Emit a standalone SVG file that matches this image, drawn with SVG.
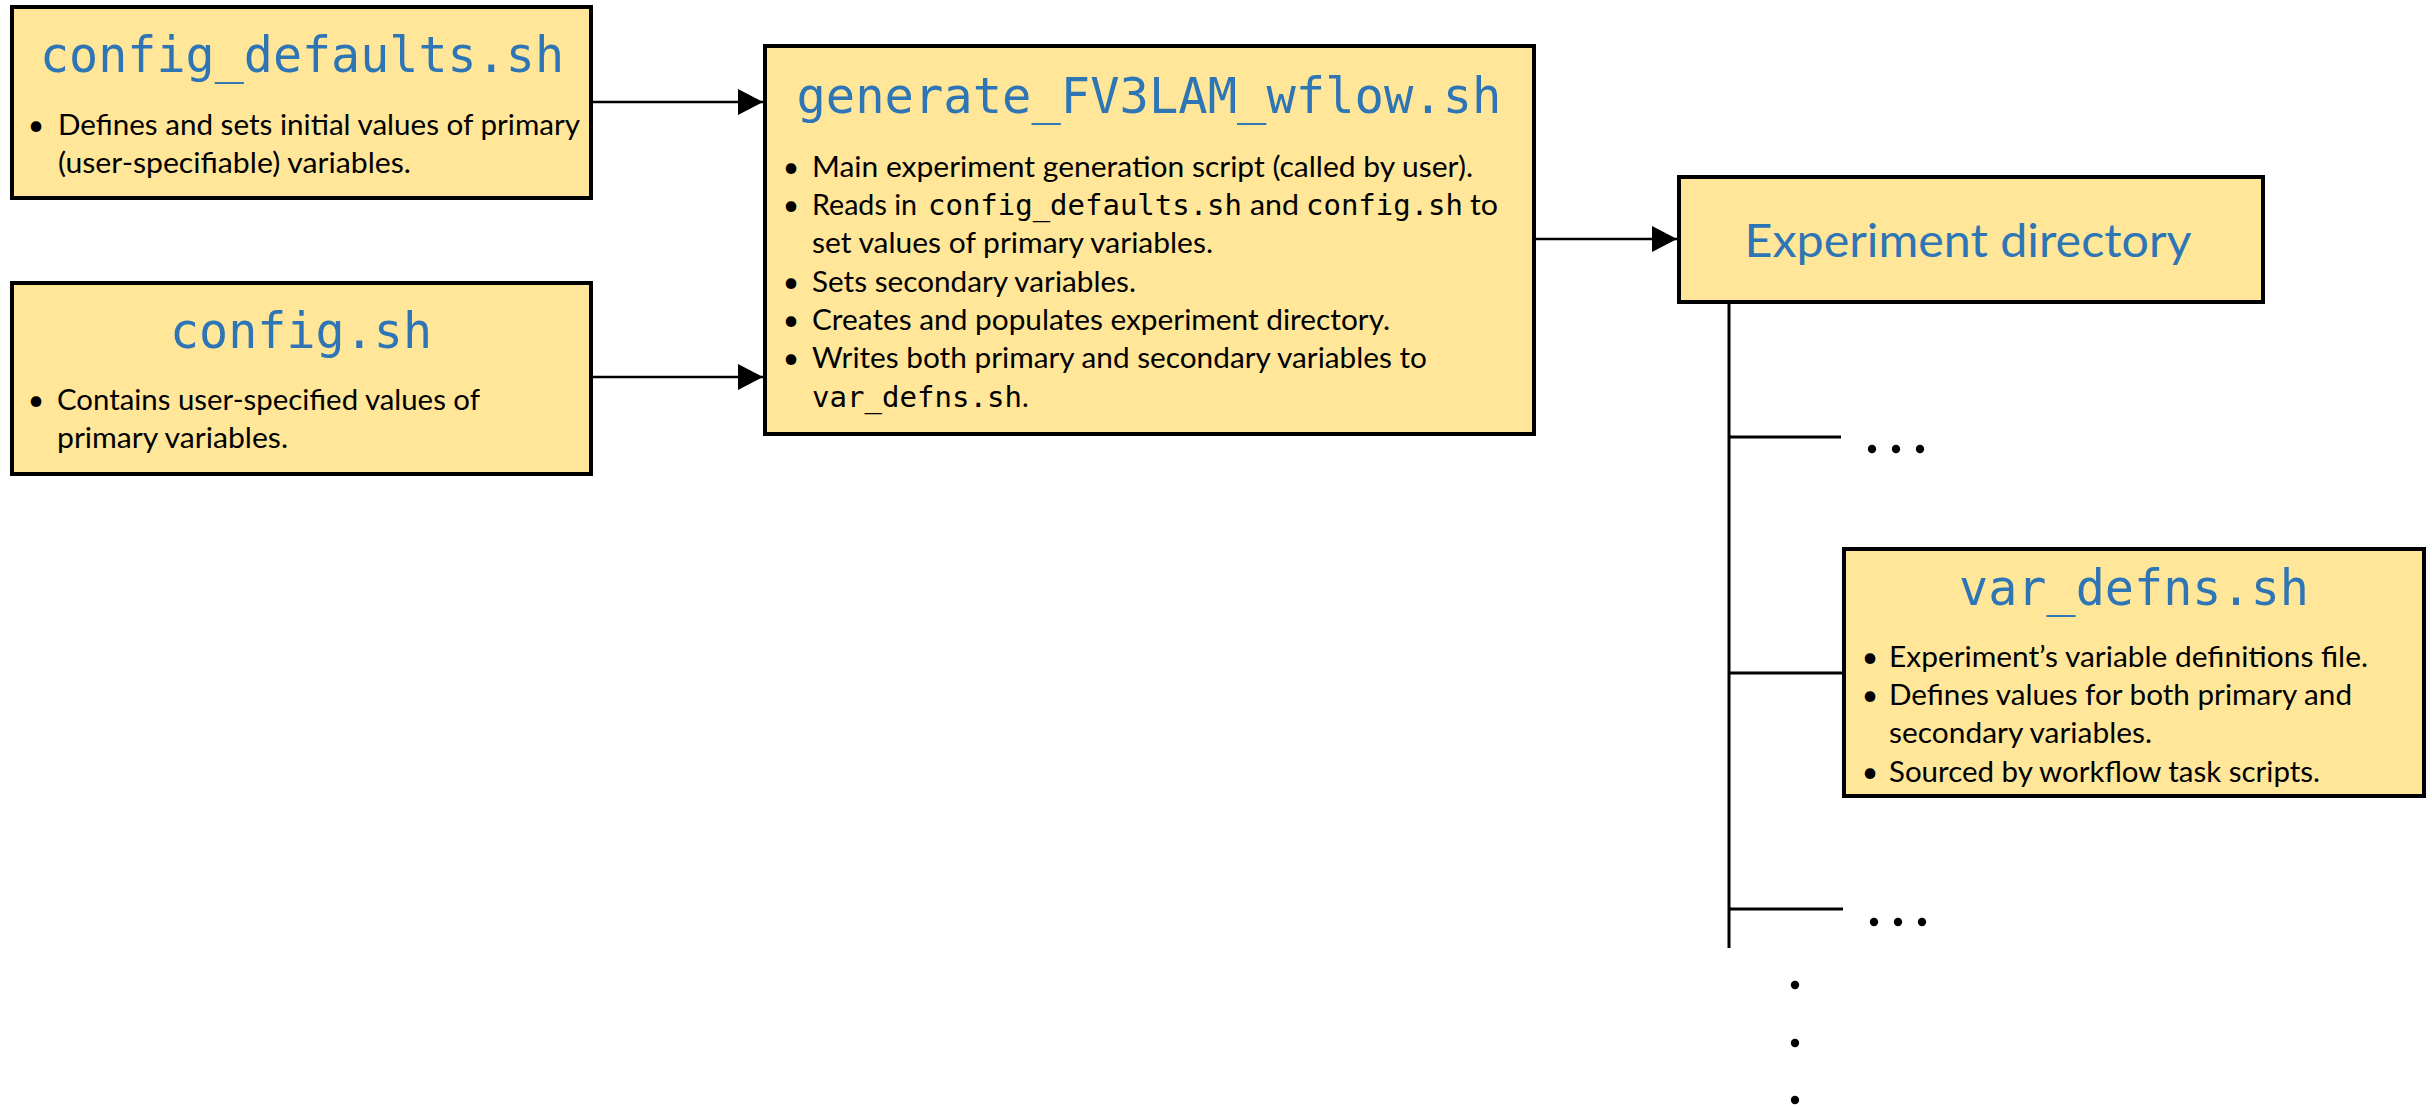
<svg xmlns="http://www.w3.org/2000/svg" width="2432" height="1107" viewBox="0 0 2432 1107">
<defs>
<style>
.box{fill:#FFE699;stroke:#000;stroke-width:4}
.title{font-family:"DejaVu Sans Mono","Liberation Mono",monospace;fill:#2E75B6;text-anchor:middle}
.body{font-family:Lato,"Liberation Sans",sans-serif;font-size:28.5px;fill:#000}
.bul{font-family:Lato,"Liberation Sans",sans-serif;font-size:28.5px;fill:#000;text-anchor:middle}
.mono{font-family:"DejaVu Sans Mono","Liberation Mono",monospace;font-size:29px}
.conn{stroke:#000;stroke-width:2.5;fill:none}
.tree{stroke:#000;stroke-width:3;fill:none}
.dot{fill:#000}
</style>
<marker id="arr" markerUnits="userSpaceOnUse" markerWidth="26" markerHeight="26" refX="25" refY="13" orient="auto">
<path d="M0,0 L25,13 L0,26 Z" fill="#000"/>
</marker>
</defs>
<rect width="2432" height="1107" fill="#fff"/>

<g id="connectors">
<line class="conn" x1="593" y1="102" x2="763" y2="102" marker-end="url(#arr)"/>
<line class="conn" x1="593" y1="377" x2="763" y2="377" marker-end="url(#arr)"/>
<line class="conn" x1="1536" y1="239" x2="1677" y2="239" marker-end="url(#arr)"/>
<line class="tree" x1="1729" y1="304" x2="1729" y2="948"/>
<line class="tree" x1="1729" y1="437" x2="1841" y2="437"/>
<line class="tree" x1="1729" y1="673" x2="1842" y2="673"/>
<line class="tree" x1="1729" y1="909" x2="1843" y2="909"/>
</g>

<g id="ellipsis-1">
<circle class="dot" cx="1872" cy="449" r="4.2"/>
<circle class="dot" cx="1896" cy="449" r="4.2"/>
<circle class="dot" cx="1920" cy="449" r="4.2"/>
</g>
<g id="ellipsis-2">
<circle class="dot" cx="1874" cy="922" r="4.2"/>
<circle class="dot" cx="1898" cy="922" r="4.2"/>
<circle class="dot" cx="1922" cy="922" r="4.2"/>
</g>
<g id="ellipsis-3">
<circle class="dot" cx="1795" cy="985" r="4.2"/>
<circle class="dot" cx="1795" cy="1043" r="4.2"/>
<circle class="dot" cx="1795" cy="1100" r="4.2"/>
</g>

<g id="config_defaults">
<rect class="box" x="12" y="7" width="579" height="191"/>
<text class="title" x="302" y="72" font-size="49" textLength="524" lengthAdjust="spacingAndGlyphs">config_defaults.sh</text>
<text class="bul" x="36" y="135">•</text>
<text class="body" x="58" y="135" textLength="522" lengthAdjust="spacingAndGlyphs">Defines and sets initial values of primary</text>
<text class="body" x="58" y="173" textLength="353" lengthAdjust="spacingAndGlyphs">(user-specifiable) variables.</text>
</g>

<g id="config">
<rect class="box" x="12" y="283" width="579" height="191"/>
<text class="title" x="301" y="348" font-size="49" textLength="262" lengthAdjust="spacingAndGlyphs">config.sh</text>
<text class="bul" x="36" y="410">•</text>
<text class="body" x="57" y="410" textLength="423" lengthAdjust="spacingAndGlyphs">Contains user-specified values of</text>
<text class="body" x="57" y="448" textLength="231" lengthAdjust="spacingAndGlyphs">primary variables.</text>
</g>

<g id="generate">
<rect class="box" x="765" y="46" width="769" height="388"/>
<text class="title" x="1149" y="113" font-size="50" textLength="705" lengthAdjust="spacingAndGlyphs">generate_FV3LAM_wflow.sh</text>
<text class="bul" x="791" y="177">•</text>
<text class="body" x="812" y="177" textLength="661" lengthAdjust="spacingAndGlyphs">Main experiment generation script (called by user).</text>
<text class="bul" x="791" y="215">•</text>
<text class="body" y="215"><tspan x="812" textLength="105" lengthAdjust="spacingAndGlyphs">Reads in</tspan><tspan class="mono" x="928" textLength="314" lengthAdjust="spacingAndGlyphs">config_defaults.sh</tspan><tspan x="1250" textLength="49" lengthAdjust="spacingAndGlyphs">and</tspan><tspan class="mono" x="1306" textLength="157" lengthAdjust="spacingAndGlyphs">config.sh</tspan><tspan x="1470" textLength="28" lengthAdjust="spacingAndGlyphs">to</tspan></text>
<text class="body" x="812" y="253" textLength="401" lengthAdjust="spacingAndGlyphs">set values of primary variables.</text>
<text class="bul" x="791" y="292">•</text>
<text class="body" x="812" y="292" textLength="324" lengthAdjust="spacingAndGlyphs">Sets secondary variables.</text>
<text class="bul" x="791" y="330">•</text>
<text class="body" x="812" y="330" textLength="578" lengthAdjust="spacingAndGlyphs">Creates and populates experiment directory.</text>
<text class="bul" x="791" y="368">•</text>
<text class="body" x="812" y="368" textLength="615" lengthAdjust="spacingAndGlyphs">Writes both primary and secondary variables to</text>
<text class="body" y="407"><tspan class="mono" x="812" textLength="210" lengthAdjust="spacingAndGlyphs">var_defns.sh</tspan><tspan x="1022">.</tspan></text>
</g>

<g id="experiment_directory">
<rect class="box" x="1679" y="177" width="584" height="125"/>
<text x="1968" y="257" font-family="Lato,'Liberation Sans',sans-serif" font-size="47" fill="#2E75B6" text-anchor="middle" textLength="447" lengthAdjust="spacingAndGlyphs">Experiment directory</text>
</g>

<g id="var_defns">
<rect class="box" x="1844" y="549" width="580" height="247"/>
<text class="title" x="2134" y="605" font-size="49" textLength="350" lengthAdjust="spacingAndGlyphs">var_defns.sh</text>
<text class="bul" x="1870" y="667">•</text>
<text class="body" x="1889" y="667" textLength="479" lengthAdjust="spacingAndGlyphs">Experiment’s variable definitions file.</text>
<text class="bul" x="1870" y="705">•</text>
<text class="body" x="1889" y="705" textLength="463" lengthAdjust="spacingAndGlyphs">Defines values for both primary and</text>
<text class="body" x="1889" y="743" textLength="263" lengthAdjust="spacingAndGlyphs">secondary variables.</text>
<text class="bul" x="1870" y="782">•</text>
<text class="body" x="1889" y="782" textLength="431" lengthAdjust="spacingAndGlyphs">Sourced by workflow task scripts.</text>
</g>
</svg>
